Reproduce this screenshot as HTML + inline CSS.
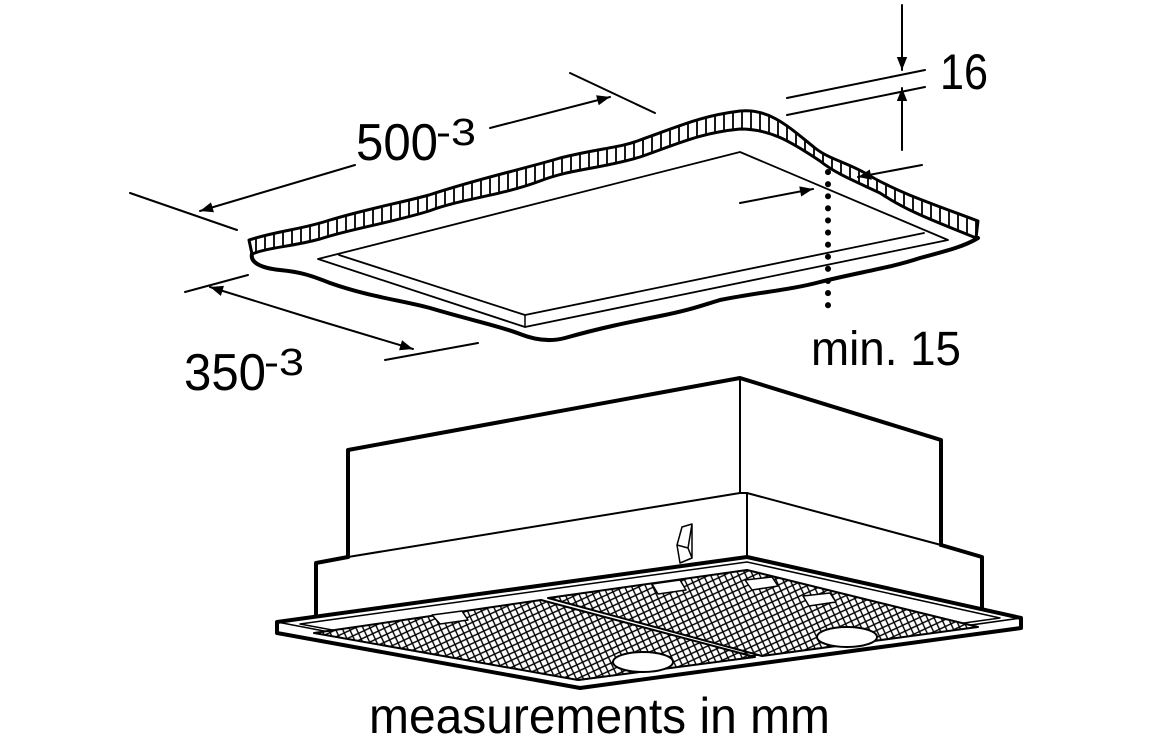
<!DOCTYPE html>
<html><head><meta charset="utf-8"><style>html,body{margin:0;padding:0;background:#fff}svg{display:block}</style></head>
<body>
<svg width="1156" height="742" viewBox="0 0 1156 742" xmlns="http://www.w3.org/2000/svg">
<defs>
<marker id="ah" viewBox="0 0 10 10" refX="10" refY="5" markerWidth="24" markerHeight="13" markerUnits="userSpaceOnUse" orient="auto"><path d="M0,1 L10,5 L0,9 Z" fill="#000"/></marker>
<pattern id="mesh" width="9" height="9" patternUnits="userSpaceOnUse" patternTransform="rotate(20)">
<rect width="9" height="9" fill="#fff"/>
<path d="M0,0 L9,9 M9,0 L0,9" stroke="#000" stroke-width="1.4"/>
</pattern>
<pattern id="hatch" width="9" height="10" patternUnits="userSpaceOnUse">
<rect width="9" height="10" fill="#fff"/><path d="M4,0 V10" stroke="#000" stroke-width="1.8"/>
</pattern>
</defs>
<g fill="none" stroke="#000" stroke-linecap="round" stroke-linejoin="round">
<!-- ceiling band -->
<path d="M249,240 C280,230 300,230 330,220 C370,208 400,203 429,195 C480,178 520,170 560,158 C600,148 620,148 640,140 C680,126 700,116 740,111 C770,108 790,128 815,148 C830,160 850,163 870,176 C900,193 930,203 978,221 L976,238 C940,223 910,213 880,193 C850,179 835,173 820,161 C790,141 770,129 740,129 C700,133 680,143 640,157 C600,169 570,169 540,181 C500,196 460,199 429,211 C390,223 350,229 320,239 C290,247 270,247 252,254 Z" fill="url(#hatch)" stroke-width="3"/>
<!-- outer bottom edge -->
<path d="M252,254 C250,262 260,268 280,270 C300,272 310,275 330,283 C370,297 400,300 430,308 C470,320 500,326 520,334 C535,340 550,342 565,338 C600,328 630,322 660,316 C690,310 700,306 720,300 C760,292 790,290 820,282 C860,272 890,268 920,258 C950,250 965,246 978,238" stroke-width="4"/>
<!-- opening -->
<path d="M318,259 L740,152 L948,240 L525,327 Z" stroke-width="1.8"/>
<path d="M339,255 L525,315 L924,233" stroke-width="1.8"/>
<path d="M525,315 L525,327" stroke-width="1.5"/>
<!-- dimension 500 -->
<path d="M130,193 L237,230 M570,73 L655,113" stroke-width="2"/>
<path d="M355,165 L200,211" stroke-width="2" marker-end="url(#ah)"/>
<path d="M490,128 L610,97" stroke-width="2" marker-end="url(#ah)"/>
<!-- dimension 350 -->
<path d="M185,292 L248,275 M385,360 L478,343" stroke-width="2"/>
<path d="M310,318 L210,287" stroke-width="2" marker-end="url(#ah)"/>
<path d="M310,318 L413,349" stroke-width="2" marker-end="url(#ah)"/>
<!-- dimension 16 -->
<path d="M787,98 L925,70 M787,115 L925,87" stroke-width="2"/>
<path d="M902,5 L902,70" stroke-width="2" marker-end="url(#ah)"/>
<path d="M902,150 L902,88" stroke-width="2" marker-end="url(#ah)"/>
<!-- min 15 -->
<path d="M740,203 L813,189" stroke-width="2" marker-end="url(#ah)"/>
<path d="M922,165 L858,177" stroke-width="2" marker-end="url(#ah)"/>
<path d="M828,172 L828,312" stroke-width="6" stroke-dasharray="0.1 12"/>
<!-- hood top box -->
<path d="M348,557 L348,450 L740,378 L941,440 L941,545" stroke-width="4"/>
<path d="M740,378 L740,493" stroke-width="2"/>
<path d="M348,557 L740,493 L747,493 L941,545" stroke-width="2"/>
<!-- middle band -->
<path d="M348,557 L316,563 L316,617 M941,545 L982,557 L982,613" stroke-width="4"/>
<path d="M747,493 L747,557" stroke-width="2"/>
<!-- handle -->
<path d="M677,545 L682,527 L692,524 L692,558 L680,563 L677,545 Z M677,545 L688,548 L692,558 M688,548 L692,524" stroke-width="1.5"/>
<!-- plate -->
<path d="M277,622 L747,557 L1021,618 L1021,628 L580,688 L277,633 Z" fill="#fff" stroke-width="4"/>
<path d="M277,622 L580,680 L1021,618" stroke-width="1.5"/>
<path d="M300,624 L747,562 L1000,618 L580,676 Z" stroke-width="1.5"/>
<!-- filters -->
<path d="M314,633 L541,600 L755,657 L578,680 Z" fill="url(#mesh)" stroke-width="2"/>
<path d="M548,598 L747,570 L978,627 L762,656 Z" fill="url(#mesh)" stroke-width="2"/>
<ellipse cx="643" cy="662" rx="30" ry="10" fill="#fff" stroke-width="2"/>
<ellipse cx="847" cy="637" rx="30" ry="10" fill="#fff" stroke-width="2"/>
<path d="M432,615 L462,611 L468,620 L440,624 Z" fill="#fff" stroke-width="1.5"/>
<path d="M652,584 L680,580 L686,590 L658,594 Z" fill="#fff" stroke-width="1.5"/>
<path d="M745,580 L772,577 L778,586 L752,590 Z" fill="#fff" stroke-width="1.5"/>
<path d="M803,596 L830,593 L836,602 L809,606 Z" fill="#fff" stroke-width="1.5"/>
</g>
<g font-family="'Liberation Sans', sans-serif" fill="#000">
<text x="356" y="160" font-size="52" textLength="82" lengthAdjust="spacingAndGlyphs">500</text>
<text x="436" y="145" font-size="38" textLength="40" lengthAdjust="spacingAndGlyphs">-3</text>
<text x="184" y="390" font-size="52" textLength="82" lengthAdjust="spacingAndGlyphs">350</text>
<text x="264" y="375" font-size="38" textLength="40" lengthAdjust="spacingAndGlyphs">-3</text>
<text x="940" y="89" font-size="50" textLength="48" lengthAdjust="spacingAndGlyphs">16</text>
<text x="811" y="365" font-size="48" textLength="150" lengthAdjust="spacingAndGlyphs">min. 15</text>
<text x="369" y="733" font-size="50" textLength="461" lengthAdjust="spacingAndGlyphs">measurements in mm</text>
</g>
</svg>
</body></html>
